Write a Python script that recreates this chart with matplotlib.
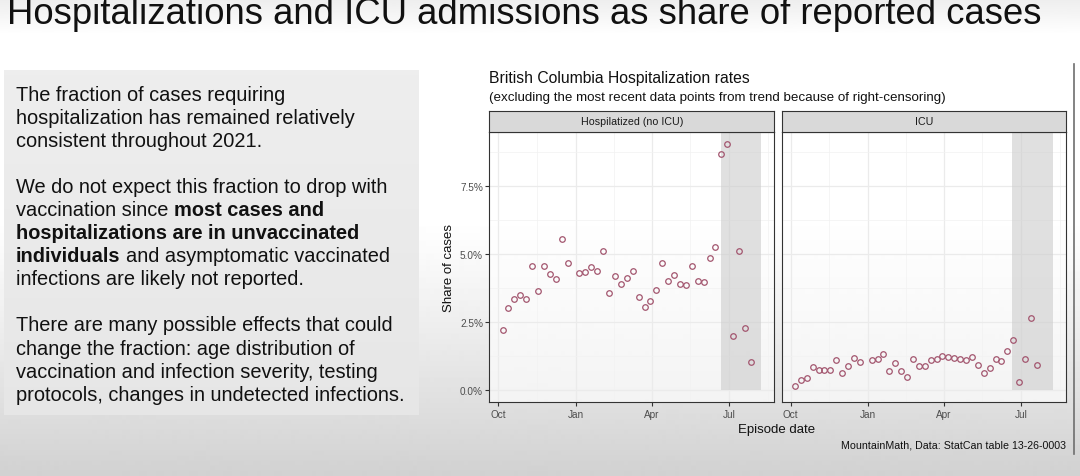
import numpy as np
import pandas as pd
import matplotlib
matplotlib.use('Agg')
import matplotlib.pyplot as plt
from matplotlib.lines import Line2D

plt.rcParams['font.family'] = ['Liberation Sans', 'DejaVu Sans']

# Weekly episode dates (one week missing around new year)
dates = ['2020-10-06', '2020-10-13', '2020-10-20', '2020-10-27',
         '2020-11-03', '2020-11-10', '2020-11-17', '2020-11-24',
         '2020-12-01', '2020-12-08', '2020-12-15', '2020-12-22',
         '2021-01-05', '2021-01-12', '2021-01-19', '2021-01-26',
         '2021-02-02', '2021-02-09', '2021-02-16', '2021-02-23',
         '2021-03-02', '2021-03-09', '2021-03-16', '2021-03-23', '2021-03-30',
         '2021-04-06', '2021-04-13', '2021-04-20', '2021-04-27',
         '2021-05-04', '2021-05-11', '2021-05-18', '2021-05-25',
         '2021-06-01', '2021-06-08', '2021-06-15', '2021-06-22', '2021-06-29',
         '2021-07-06', '2021-07-13', '2021-07-20', '2021-07-27']

# Share of cases (%)
hospitalized = [2.20, 3.01, 3.36, 3.49, 3.37, 4.55, 3.66, 4.56, 4.26, 4.09, 5.58, 4.67,
                4.30, 4.35, 4.52, 4.39, 5.11, 3.58, 4.19, 3.90, 4.11, 4.38, 3.43, 3.06,
                3.27, 3.68, 4.67, 4.00, 4.25, 3.91, 3.88, 4.58, 4.01, 3.97, 4.85, 5.26,
                8.70, 9.07, 2.00, 5.11, 2.29, 1.03]
icu = [0.15, 0.37, 0.45, 0.85, 0.75, 0.75, 0.75, 1.12, 0.63, 0.88, 1.19, 1.04,
       1.10, 1.14, 1.32, 0.70, 0.99, 0.69, 0.48, 1.13, 0.88, 0.88, 1.09, 1.14,
       1.27, 1.23, 1.19, 1.16, 1.09, 1.23, 0.91, 0.63, 0.81, 1.14, 1.08, 1.45,
       1.83, 0.29, 1.14, 2.67, 0.93, np.nan]

panel_names = ['Hospilatized (no ICU)', 'ICU']
censor_start = '2021-06-21'
censor_end = '2021-08-08'

month_ticks = ['2020-10-01', '2021-01-01', '2021-04-01', '2021-07-01']
month_labels = ['Oct', 'Jan', 'Apr', 'Jul']
minor_ticks = ['2020-11-16', '2021-02-15', '2021-05-16', '2021-08-16']
y_ticks = [0.0, 2.5, 5.0, 7.5]
y_minor = [1.25, 3.75, 6.25, 8.75]

slide_title = 'Hospitalizations and ICU admissions as share of reported cases'
# (segment, bold) per line, None = empty line
slide_lines = [
    [('The fraction of cases requiring', False)],
    [('hospitalization has remained relatively', False)],
    [('consistent throughout 2021.', False)],
    None,
    [('We do not expect this fraction to drop with', False)],
    [('vaccination since', False), ('most cases and', True)],
    [('hospitalizations are in unvaccinated', True)],
    [('individuals', True), ('and asymptomatic vaccinated', False)],
    [('infections are likely not reported.', False)],
    None,
    [('There are many possible effects that could', False)],
    [('change the fraction: age distribution of', False)],
    [('vaccination and infection severity, testing', False)],
    [('protocols, changes in undetected infections.', False)],
]

W, H = 1080, 477
fig = plt.figure(figsize=(W / 100, H / 100), dpi=100)


def fx(px):
    return px / W


def fy(py):
    return 1 - py / H


# Slide background: white with grey vignette at the bottom
rows = np.arange(H)
shade = np.ones(H)
shade -= 0.18 * np.clip((rows - 220) / (H - 220), 0, 1) ** 1.1
shade -= 0.07 * np.clip((35 - rows) / 35, 0, 1)
bg = fig.add_axes([0, 0, 1, 1], zorder=-10)
bg.imshow(shade[:, None], cmap='gray', vmin=0, vmax=1, aspect='auto',
          extent=[0, 1, 0, 1], interpolation='bilinear')
bg.axis('off')

# Grey text box on the left
box_rows = np.linspace(0.93, 0.90, 100)
box = fig.add_axes([fx(4), fy(416), fx(415), (416 - 71) / H], zorder=-5)
box.imshow(box_rows[:, None], cmap='gray', vmin=0, vmax=1, aspect='auto',
           extent=[0, 1, 0, 1], interpolation='bilinear')
box.axis('off')

fig.text(fx(7), fy(24.5), slide_title, fontsize=26.3, color='#111111', va='baseline')

renderer = fig.canvas.get_renderer()
probe1 = fig.text(0, 0, 'x x', fontsize=14.4)
probe2 = fig.text(0, 0, 'xx', fontsize=14.4)
space_w = probe1.get_window_extent(renderer).width - probe2.get_window_extent(renderer).width
probe1.remove()
probe2.remove()

for i, line in enumerate(slide_lines):
    if line is None:
        continue
    x = 15.7
    y = fy(100.7 + 23.08 * i)
    for seg, bold in line:
        t = fig.text(fx(x), y, seg, fontsize=14.4, color='#111111', va='baseline',
                     fontweight='bold' if bold else 'normal')
        x += t.get_window_extent(renderer).width + space_w

# Chart titles
fig.text(fx(489.3), fy(83.3), 'British Columbia Hospitalization rates', fontsize=11.3,
         color='#111111', va='baseline')
fig.text(fx(489.3), fy(101), '(excluding the most recent data points from trend because of right-censoring)',
         fontsize=9.6, color='#111111', va='baseline')

x_dates = pd.to_datetime(dates)
panel_left = [489.3, 781.7]
panel_right = [774.3, 1066.0]
panel_top, panel_bottom = 132.5, 403.3
strip_top = 111.7

for k, values in enumerate([hospitalized, icu]):
    ax = fig.add_axes([fx(panel_left[k]), fy(panel_bottom),
                       fx(panel_right[k] - panel_left[k]), (panel_bottom - panel_top) / H])
    ax.set_facecolor((1, 1, 1, 0.65))
    ax.fill_between(pd.to_datetime([censor_start, censor_end]), 0, 100,
                    color='#cccccc', alpha=0.6, lw=0, zorder=1)
    ax.plot(x_dates, values, 'o', mfc='none', mec='#a3566f', ms=4.0, mew=0.9, zorder=3)

    ax.set_xlim(pd.Timestamp('2020-09-20 08:00'), pd.Timestamp('2021-08-23 14:00'))
    ax.set_ylim(-0.45, 9.52)
    ax.set_xticks(pd.to_datetime(month_ticks))
    ax.set_xticklabels(month_labels)
    ax.set_xticks(pd.to_datetime(minor_ticks), minor=True)
    ax.set_yticks(y_ticks)
    ax.set_yticklabels([f'{v:.1f}%' for v in y_ticks])
    ax.set_yticks(y_minor, minor=True)
    ax.grid(which='major', color='#ebebeb', lw=0.9, zorder=0)
    ax.grid(which='minor', color='#f2f2f2', lw=0.5, zorder=0)
    ax.set_axisbelow(True)
    ax.tick_params(which='major', length=3, width=0.8, color='#333333',
                   labelsize=7.2, labelcolor='#4d4d4d', pad=1.5)
    ax.tick_params(which='minor', length=0)
    if k == 1:
        ax.tick_params(axis='y', left=False, labelleft=False)
    for sp in ax.spines.values():
        sp.set_color('#333333')
        sp.set_linewidth(0.8)

    # facet strip
    sax = fig.add_axes([fx(panel_left[k]), fy(panel_top),
                        fx(panel_right[k] - panel_left[k]), (panel_top - strip_top) / H])
    sax.set_facecolor('#d9d9d9')
    sax.set_xticks([])
    sax.set_yticks([])
    for sp in sax.spines.values():
        sp.set_color('#333333')
        sp.set_linewidth(0.8)
    sax.text(0.5, 0.5, panel_names[k], transform=sax.transAxes, ha='center', va='center',
             fontsize=7.7, color='#1a1a1a')

fig.text(fx(449), fy((panel_top + panel_bottom) / 2), 'Share of cases', rotation=90,
         ha='center', va='center', fontsize=9.5, color='#111111')
fig.text(fx(777), fy(430), 'Episode date', ha='center', va='center', fontsize=9.5,
         color='#111111')
fig.text(fx(1066), fy(448), 'MountainMath, Data: StatCan table 13-26-0003', ha='right',
         va='baseline', fontsize=7.65, color='#111111')

fig.add_artist(Line2D([fx(1074), fx(1074)], [fy(65), fy(455)], color='#6e6e6e', lw=1.2))

fig.savefig('out.png', dpi=100)
plt.close(fig)
